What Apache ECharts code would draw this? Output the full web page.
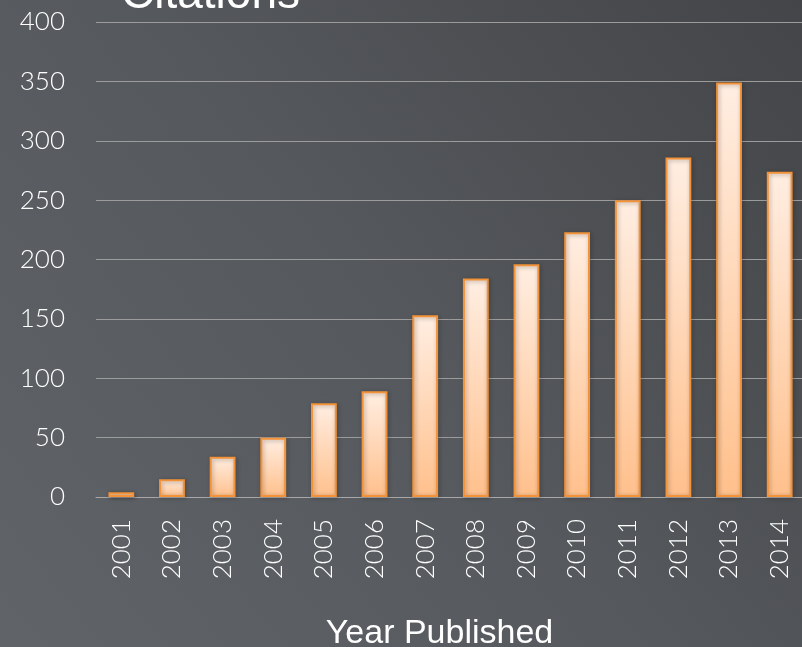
<!DOCTYPE html>
<html lang="en">
<head>
    <meta charset="UTF-8">
    <title>Citations</title>
    <script src="https://cdn.jsdelivr.net/npm/echarts@6/dist/echarts.min.js"></script>
    <style>
        html, body { margin: 0; padding: 0; }
        #chart { width: 802px; height: 647px; }
    </style>
</head>
<body>
    <div id="chart"></div>
    <script>
        const years = ['2001', '2002', '2003', '2004', '2005', '2006', '2007',
                       '2008', '2009', '2010', '2011', '2012', '2013', '2014'];
        const citations = [4, 15, 34, 50, 79, 89, 153, 184, 196, 223, 250, 286, 349, 274];

        const chart = echarts.init(document.getElementById('chart'));

        const option = {
            backgroundColor: {
                type: 'linear', x: 0, y: 1, x2: 1, y2: 0,
                colorStops: [
                    { offset: 0, color: '#606367' },
                    { offset: 0.5, color: '#55585c' },
                    { offset: 1, color: '#434548' }
                ]
            },
            title: {
                text: 'Citations',
                left: 116,
                top: -33,
                textStyle: { color: '#ffffff', fontSize: 46, fontWeight: 'normal', fontFamily: 'Liberation Sans' }
            },
            grid: { left: 96, right: -3, top: 22, bottom: 150, containLabel: false, outerBoundsMode: 'none' },
            xAxis: {
                type: 'category',
                data: years,
                name: 'Year Published',
                nameLocation: 'middle',
                nameGap: 120,
                nameTextStyle: { color: '#ffffff', fontSize: 34, fontFamily: 'Liberation Sans', padding: [0, 22, 0, 0] },
                axisLine: { lineStyle: { color: '#a8a8a8', width: 1 } },
                axisTick: { show: false },
                axisLabel: { rotate: 90, color: '#ffffff', fontSize: 26, fontWeight: 300, fontFamily: 'Lato', margin: 22 }
            },
            yAxis: {
                type: 'value',
                min: 0,
                max: 400,
                interval: 50,
                axisLine: { show: false },
                axisTick: { show: false },
                splitLine: { lineStyle: { color: '#9c9c9c', width: 1 } },
                axisLabel: { color: '#ffffff', fontSize: 26, fontWeight: 300, fontFamily: 'Lato', margin: 31 }
            },
            series: [{
                type: 'bar',
                data: citations,
                barWidth: '51%',
                itemStyle: {
                    color: {
                        type: 'linear', x: 0, y: 0, x2: 0, y2: 1,
                        colorStops: [
                            { offset: 0, color: '#ffeee2' },
                            { offset: 1, color: '#ffc08c' }
                        ]
                    },
                    borderColor: '#f39238',
                    borderWidth: 2,
                    shadowColor: 'rgba(0,0,0,0.35)',
                    shadowBlur: 4,
                    shadowOffsetX: 1,
                    shadowOffsetY: 1
                }
            }]
        };

        chart.setOption(option);
    </script>
</body>
</html>
